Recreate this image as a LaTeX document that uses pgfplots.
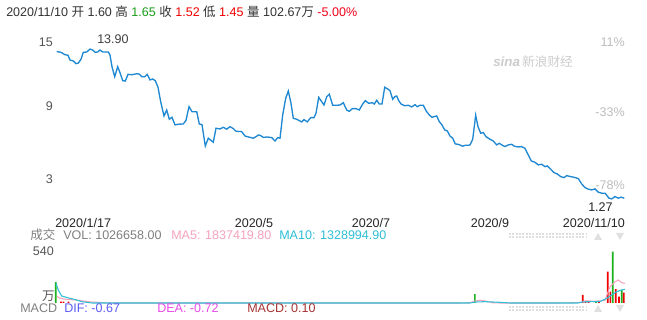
\documentclass[border=0pt]{standalone}
\usepackage{fontspec}
\setmainfont{Liberation Sans}
\newfontfamily\cjk{Noto Sans CJK SC}
\usepackage{pgfplots}
\pgfplotsset{compat=1.18}
\definecolor{pline}{HTML}{1E88D2}
\definecolor{gridc}{HTML}{E6E6E6}
\definecolor{tgray}{HTML}{555555}
\definecolor{pgray}{HTML}{BDBDBD}
\definecolor{upred}{HTML}{F00000}
\definecolor{dngreen}{HTML}{1DB11D}
\definecolor{ma5c}{HTML}{F5A3BC}
\definecolor{ma10c}{HTML}{2EBFD6}
\definecolor{difc}{HTML}{5C5CF5}
\definecolor{deac}{HTML}{E84CE8}
\definecolor{macdc}{HTML}{A83434}
\begin{document}
\begin{tikzpicture}
\useasboundingbox (0,0) rectangle (485.25pt,240pt);
\fill[white] (0,0) rectangle (485.25pt,240pt);
% background axis for vertical grid lines
\begin{axis}[at={(41.25pt,1.5pt)}, anchor=south west, scale only axis,
  width=427.5pt, height=213pt, xmin=55, xmax=625, ymin=0, ymax=1,
  axis lines=none, xtick={254,371,490}, ytick=\empty, xticklabels={},
  xmajorgrids, major grid style={gridc, line width=0.75pt}]
\addplot[draw=none] coordinates {(55,0)(625,1)};
\end{axis}
% main price axis
\begin{axis}[at={(41.25pt,80.25pt)}, anchor=south west, scale only axis,
  width=427.5pt, height=134.25pt, xmin=55, xmax=625, ymin=0.2, ymax=14.92,
  axis lines=none, xtick=\empty, ytick={3,9,13.27,14.92}, yticklabels={},
  ymajorgrids, major grid style={gridc, line width=0.75pt}, clip=false]
\addplot[pline, line width=1pt] coordinates {
(56.7,13.47)(60.7,13.42)(65,13.22)(68,13.17)(70,12.78)(73.3,12.70)(76,12.48)(78.3,12.53)(81,12.84)(83.3,13.41)(86.7,13.44)(90,13.68)(92.7,13.6)(95.3,13.41)(97.7,13.44)(100,13.6)(102.7,13.44)(108.3,13.44)(110,13.19)(112,12.23)(114.7,11.41)(117.7,12.23)(120,11.74)(122.7,11.08)(125.3,11.05)(128,11.6)(132,11.57)(136.7,11.65)(139.3,11.63)(141.7,11.41)(144.7,11.41)(147.3,11.6)(150,11.14)(152.7,11.22)(155.3,11.08)(158,10.54)(160.7,9.35)(164,8.18)(166.7,8.67)(169.3,7.91)(172,8.07)(175,7.44)(178.3,7.5)(183.3,7.52)(186,7.82)(189,8.94)(192,8.53)(196.7,8.53)(199.3,7.52)(202,7.47)(205.3,5.71)(208.3,6.35)(213.3,6.02)(216,7.17)(220,7.11)(223.3,7.25)(226.7,7.09)(230,7.3)(233.3,7.14)(236,6.92)(241.7,6.89)(245,6.53)(250,6.42)(253.3,6.35)(256,6.48)(258.7,6.62)(260.7,6.56)(263.3,6.42)(267.3,6.45)(271.7,6.4)(275,6.12)(277.7,6.4)(280,6.35)(282.7,8.26)(285.7,9.63)(288.3,10.23)(291,9.22)(293.3,7.99)(296.7,7.91)(301.7,7.69)(304,7.88)(307.3,7.69)(310.7,8.04)(314,8.04)(316,8.4)(318.7,9.71)(324,9.08)(326.7,9.76)(329.3,9.96)(332.7,9.06)(336.7,9.06)(340,9.08)(343.3,9.27)(346.7,8.67)(349.3,8.56)(352.3,8.78)(356,8.78)(359.3,8.67)(362.7,9.16)(365.3,9.44)(368.7,9.22)(372.3,9.27)(374.3,9.16)(376.7,9.47)(379.3,9.16)(382,9.16)(384.7,10.54)(387.7,10.4)(390,10.26)(392.7,9.55)(394.7,9.76)(396.7,9.82)(398.7,9.44)(401.3,9.14)(405,9.02)(408.3,9.06)(411.7,8.92)(415,9.11)(417.3,8.94)(420,9.06)(423.3,9.06)(426,8.61)(429.3,8.26)(432,8.07)(436.7,8.18)(439.3,7.71)(442,7.44)(444.7,7.03)(447.3,6.95)(450,6.53)(452.7,6.35)(455.3,5.88)(458,5.85)(460.7,5.77)(462.7,5.69)(465.3,5.77)(468.7,5.77)(470,5.80)(472.7,6.26)(475.7,8.24)(478,7.30)(480.7,6.76)(483.3,6.81)(486,6.48)(490,6.26)(493.3,6.12)(496.7,5.80)(499.3,5.93)(501.7,5.80)(505,5.66)(508.3,5.80)(511.7,5.85)(514.3,5.69)(518.3,5.63)(521.7,5.66)(525,5.52)(528.3,4.97)(531.3,4.48)(535,4.37)(538.3,4.15)(541.7,4.21)(545,4.01)(547.3,4.07)(550.7,3.80)(554,3.52)(557.3,3.41)(560.7,3.19)(564,3.11)(566.7,3.27)(570.7,3.19)(574,3.14)(578.3,3.03)(581.7,2.59)(585,2.29)(588.3,2.16)(591.7,2.10)(595,2.18)(598.3,1.91)(601.7,1.83)(605,1.83)(609,1.42)(611.7,1.36)(615,1.55)(618.3,1.42)(621,1.50)(624.3,1.42)};
\end{axis}
% volume axis
\begin{axis}[at={(41.25pt,1.5pt)}, anchor=south west, scale only axis,
  width=427.5pt, height=55.5pt, xmin=55, xmax=625, ymin=-159, ymax=625,
  axis lines=none, xtick=\empty, ytick={-159,625}, yticklabels={},
  ymajorgrids, major grid style={gridc, line width=0.75pt}, clip=false]
\addplot[ybar, bar width=1.6, fill=dngreen, draw=none] coordinates {(55.7,222)(474.8,95)(596,8)(612.7,543)(621.7,138)};
\addplot[ybar, bar width=1.6, fill=upred, draw=none] coordinates {(61,14)(63.5,14)(68.5,14)(582.7,85)(585.5,12)(588.5,8)(599,10)(607.7,331)(610.3,120)(615.7,148)(619,67)(623.7,109)};
\addplot[ma5c, line width=0.8pt] coordinates {(57,70)(60,50)(65,40)(75,32)(90,12)(100,5)(110,0)(460,0)(470,3)(475,20)(480,30)(485,22)(492,3)(500,0)(560,0)(570,2)(580,5)(586,24)(592,20)(600,21)(605,30)(610,172)(615,225)(618.3,243)(621.7,215)(625,209)};
\addplot[ma10c, line width=0.8pt] coordinates {(56,208)(58.3,138)(61.7,74)(70,49)(76.7,32)(81.7,14)(86.7,7)(92,0)(470,0)(475,10)(485,14)(500,7)(510,0)(578,0)(583,12)(590,14)(600,16)(606.7,49)(611.7,85)(616.7,120)(621.7,138)(625,145)};
\end{axis}
\begin{scope}[x=0.75pt,y=0.75pt]
\def\fs{\fontsize{9.4}{11}\selectfont}
% header
\node[anchor=base west, inner sep=0pt, text=black!80, font=\fs] at (6,{320-17}) {2020/11/10 {\cjk 开} 1.60 {\cjk 高} \textcolor{dngreen!90!black}{1.65} {\cjk 收} \textcolor{upred}{1.52} {\cjk 低} \textcolor{upred}{1.45} {\cjk 量} 102.67{\cjk 万} \textcolor{upred!90!magenta}{-5.00\%}};
% left ticks
\node[anchor=base east, inner sep=0pt, text=tgray, font=\fs] at (53,{320-47}) {15};
\node[anchor=base east, inner sep=0pt, text=tgray, font=\fs] at (53,{320-111}) {9};
\node[anchor=base east, inner sep=0pt, text=tgray, font=\fs] at (53,{320-184}) {3};
% right percentage labels
\node[anchor=base east, inner sep=0pt, text=pgray, font=\fs] at (625,{320-47}) {11\%};
\node[anchor=base east, inner sep=0pt, text=pgray, font=\fs] at (625,{320-117}) {-33\%};
\node[anchor=base east, inner sep=0pt, text=pgray, font=\fs] at (625,{320-190}) {-78\%};
% extremes
\node[anchor=base west, inner sep=0pt, text=black!75, font=\fs] at (97,{320-44}) {13.90};
\node[anchor=base west, inner sep=0pt, text=black!85, font=\fs] at (588,{320-212}) {1.27};
% watermark
\node[anchor=base west, inner sep=0pt, text=black!20, font=\fontsize{10}{11}\selectfont] at (493,{320-67}) {\textbf{\textit{sina}}\,{\cjk\fontsize{9.5}{11}\selectfont 新浪财经}};
% x labels
\node[anchor=base west, inner sep=0pt, text=black!85, font=\fs] at (55,{320-228}) {2020/1/17};
\node[anchor=base, inner sep=0pt, text=black!85, font=\fs] at (254,{320-228}) {2020/5};
\node[anchor=base, inner sep=0pt, text=black!85, font=\fs] at (371,{320-228}) {2020/7};
\node[anchor=base, inner sep=0pt, text=black!85, font=\fs] at (490,{320-228}) {2020/9};
\node[anchor=base east, inner sep=0pt, text=black!85, font=\fs] at (625,{320-228}) {2020/11/10};
% volume info row
\node[anchor=base west, inner sep=0pt, text=black!50, font=\fs] at (30,{320-240}) {{\cjk 成交}};
\node[anchor=base west, inner sep=0pt, text=black!50, font=\fs] at (63,{320-240}) {VOL: 1026658.00};
\node[anchor=base west, inner sep=0pt, text=ma5c, font=\fs] at (171,{320-240}) {MA5: 1837419.80};
\node[anchor=base west, inner sep=0pt, text=ma10c, font=\fs] at (279,{320-240}) {MA10: 1328994.90};
\node[anchor=base east, inner sep=0pt, text=tgray, font=\fs] at (54,{320-256}) {540};
\node[anchor=base east, inner sep=0pt, text=tgray, font=\fs] at (55,{320-301}) {{\cjk 万}};
% MACD row
\node[anchor=base west, inner sep=0pt, text=black!50, font=\fs] at (20,{320-313}) {MACD};
\node[anchor=base west, inner sep=0pt, text=difc, font=\fs] at (64,{320-313}) {DIF: -0.67};
\node[anchor=base west, inner sep=0pt, text=deac, font=\fs] at (157,{320-313}) {DEA: -0.72};
\node[anchor=base west, inner sep=0pt, text=macdc, font=\fs] at (247,{320-313}) {MACD: 0.10};
% scroll decorations
\draw[black!12, line width=1.5pt, dash pattern=on 1.5pt off 1pt] (509,{320-234}) -- (586,{320-234});
\draw[black!12, line width=1.5pt, dash pattern=on 1.5pt off 1pt] (509,{320-237}) -- (586,{320-237});
\draw[black!12, line width=1.5pt, dash pattern=on 1.5pt off 1pt] (509,{320-307}) -- (586,{320-307});
\draw[black!12, line width=1.5pt, dash pattern=on 1.5pt off 1pt] (509,{320-310}) -- (586,{320-310});
\fill[black!12] (594,{320-240}) -- (602,{320-240}) -- (598,{320-233}) -- cycle;
\fill[black!12] (616,{320-233}) -- (624,{320-233}) -- (620,{320-240}) -- cycle;
\fill[black!12] (594,{320-312}) -- (602,{320-312}) -- (598,{320-305}) -- cycle;
\fill[black!12] (616,{320-305}) -- (624,{320-305}) -- (620,{320-312}) -- cycle;
\end{scope}
\end{tikzpicture}
\end{document}
